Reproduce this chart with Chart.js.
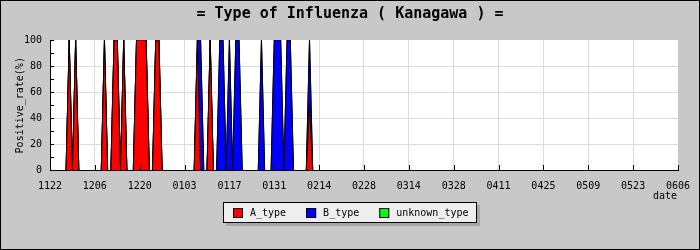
<!DOCTYPE html>
<html><head><meta charset="utf-8">
<script src="https://cdn.jsdelivr.net/npm/chart.js@4/dist/chart.umd.min.js"></script>
<style>html,body{margin:0;padding:0;background:#c8c8c8;overflow:hidden}#wrap{width:700px;height:250px;position:relative}</style>
</head><body><div id="wrap"><canvas id="c"></canvas></div>
<script>
const chartTitle = '= Type of Influenza ( Kanagawa ) =';
const xAxisTitle = 'date';
const yAxisTitle = 'Positive_rate(%)';
const tickLabels = ['1122','1206','1220','0103','0117','0131','0214','0228','0314','0328','0411','0425','0509','0523','0606'];
const daysPerTick = 14;
const seriesNames = ['A_type','B_type','unknown_type'];
const seriesColors = ['#ff0000','#0000ff','#00ff00'];
// daily positive rate (%), day 0 = 1122
const aType = [
  0,0,0,0,0,0,100,0,100,0,
  0,0,0,0,0,0,0,100,0,0,
  100,100,0,100,0,0,0,100,100,100,
  100,0,0,100,100,0,0,0,0,0,
  0,0,0,0,0,0,100,0,0,0,
  100,0,0,0,0,0,0,0,0,0,
  0,0,0,0,0,0,0,0,0,0,
  0,0,0,0,0,0,0,0,0,0,
  0,50,0,0,0,0,0,0,0,0,
  0
];
const bType = [
  0,0,0,0,0,0,0,0,0,0,
  0,0,0,0,0,0,0,0,0,0,
  0,0,0,0,0,0,0,0,0,0,
  0,0,0,0,0,0,0,0,0,0,
  0,0,0,0,0,0,0,100,0,0,
  0,0,0,100,100,0,100,0,100,100,
  0,0,0,0,0,0,100,0,0,0,
  100,100,100,0,100,100,0,0,0,0,
  0,50,0,0,0,0,0,0,0,0,
  0
];
const unknownType = [
  0,0,0,0,0,0,0,0,0,0,
  0,0,0,0,0,0,0,0,0,0,
  0,0,0,0,0,0,0,0,0,0,
  0,0,0,0,0,0,0,0,0,0,
  0,0,0,0,0,0,0,0,0,0,
  0,0,0,0,0,0,0,0,0,0,
  0,0,0,0,0,0,0,0,0,0,
  0,0,0,0,0,0,0,0,0,0,
  0,0,0,0,0,0,0,0,0,0,
  0
];
const seriesValues = [aType, bType, unknownType];
const lastDay = (tickLabels.length - 1) * daysPerTick;
const MONO = '"DejaVu Sans Mono", "Liberation Mono", monospace';
const GRID = '#dcdcdc';

const decor = {
  id: 'decor',
  beforeDraw(chart) {
    const {ctx, chartArea: a} = chart;
    ctx.save();
    ctx.fillStyle = '#c8c8c8';
    ctx.fillRect(0, 0, chart.width, chart.height);
    ctx.fillStyle = '#ffffff';
    ctx.fillRect(a.left, a.top, a.right - a.left, Math.floor(a.bottom) - a.top);
    ctx.restore();
  },
  afterDraw(chart) {
    const {ctx, chartArea: a} = chart;
    const xs = chart.scales.x, ys = chart.scales.y;
    const base = Math.floor(a.bottom);
    ctx.save();
    ctx.strokeStyle = '#000';
    ctx.lineWidth = 1;
    ctx.beginPath();
    for (let i = 0; i < tickLabels.length; i++) {
      const px = Math.round(xs.getPixelForValue(i * daysPerTick)) + 0.5;
      ctx.moveTo(px, base + 1); ctx.lineTo(px, base - 5);
    }
    for (let v = 0; v <= 100; v += 10) {
      const py = Math.floor(ys.getPixelForValue(v)) + 0.5;
      ctx.moveTo(a.left, py); ctx.lineTo(a.left + 4, py);
    }
    ctx.stroke();
    ctx.strokeRect(0.5, 0.5, chart.width - 1, chart.height - 1);
    ctx.fillStyle = '#000';
    ctx.font = 'bold 15px ' + MONO;
    ctx.textAlign = 'center';
    ctx.textBaseline = 'middle';
    ctx.fillText(chartTitle, chart.width / 2, 14);
    ctx.font = '10px ' + MONO;
    ctx.textAlign = 'right';
    ctx.fillText(xAxisTitle, a.right - 1, 196);
    const boxW = 254, boxH = 21;
    const bx = Math.round(chart.width / 2 - boxW / 2), by = 202;
    ctx.fillStyle = '#a8a8a8';
    ctx.fillRect(bx + 3, by + 3, boxW, boxH);
    ctx.fillStyle = '#eeeeee';
    ctx.fillRect(bx, by, boxW, boxH);
    ctx.strokeStyle = '#000';
    ctx.strokeRect(bx + 0.5, by + 0.5, boxW - 1, boxH - 1);
    ctx.textAlign = 'left';
    ctx.textBaseline = 'middle';
    let cx = bx + 10;
    seriesNames.forEach((name, i) => {
      ctx.fillStyle = seriesColors[i];
      ctx.fillRect(cx, by + 6, 10, 10);
      ctx.strokeRect(cx + 0.5, by + 6.5, 9, 9);
      ctx.fillStyle = '#000';
      ctx.fillText(name, cx + 17, by + 11.5);
      cx += 17 + ctx.measureText(name).width + 20;
    });
    ctx.restore();
  }
};

const datasets = seriesNames.map((name, i) => ({
  label: name,
  data: seriesValues[i].map((v, d) => ({x: d, y: v})),
  backgroundColor: seriesColors[i],
  borderColor: '#000000',
  borderWidth: 1,
  pointRadius: 0,
  tension: 0,
  fill: i === 0 ? 'origin' : '-1'
}));

new Chart(document.getElementById('c'), {
  type: 'line',
  data: {datasets},
  options: {
    responsive: true,
    maintainAspectRatio: false,
    animation: false,
    devicePixelRatio: 1,
    layout: {padding: {top: 40, right: 20, bottom: 0, left: 0}},
    plugins: {legend: {display: false}, title: {display: false}, tooltip: {enabled: false}},
    scales: {
      x: {
        type: 'linear', min: 0, max: lastDay,
        afterFit(s) { s.height = 79.5; },
        grid: {color: (c) => (c.tick && c.tick.value >= lastDay) ? 'rgba(0,0,0,0)' : GRID, drawTicks: false},
        border: {color: '#000', width: 1},
        ticks: {
          stepSize: daysPerTick, autoSkip: false, maxRotation: 0, padding: 10,
          color: '#000', font: {family: MONO, size: 10},
          callback: (v) => tickLabels[Math.round(v / daysPerTick)]
        }
      },
      y: {
        stacked: true, min: 0, max: 100,
        afterFit(s) { s.width = 50; },
        grid: {color: (c) => (c.tick && c.tick.value >= 100) ? 'rgba(0,0,0,0)' : GRID, drawTicks: false},
        border: {color: '#000', width: 1},
        ticks: {stepSize: 20, padding: 8, color: '#000', font: {family: MONO, size: 10}},
        title: {display: true, text: yAxisTitle, color: '#000', font: {family: MONO, size: 10}, padding: {top: 14, bottom: 0}}
      }
    }
  },
  plugins: [decor]
});
</script></body></html>
